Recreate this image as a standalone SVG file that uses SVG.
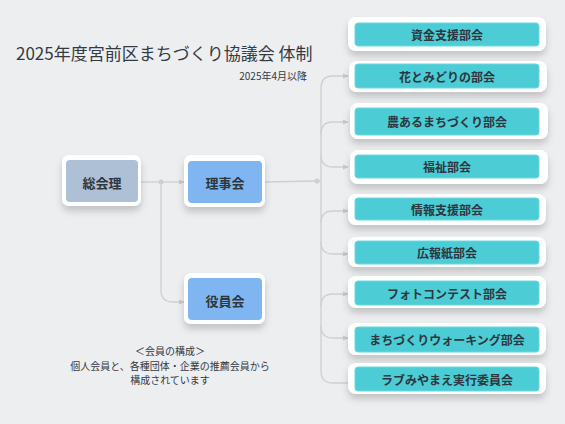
<svg xmlns="http://www.w3.org/2000/svg" width="565" height="424" viewBox="0 0 565 424">
<defs>
<filter id="sh" x="-20%" y="-30%" width="140%" height="180%">
<feDropShadow dx="0" dy="5" stdDeviation="3.5" flood-color="#000" flood-opacity="0.18"/>
</filter>
<marker id="ar" markerWidth="6" markerHeight="6" refX="5" refY="3" orient="auto" markerUnits="userSpaceOnUse">
<path d="M0,0.5 L5.5,3 L0,5.5 Z" fill="#c8c8cc"/>
</marker>
<style>
.outer{fill:#fff;filter:url(#sh)}
.teal{fill:#4ccdd5;stroke:#6ad8de;stroke-width:1}
.lbl{font-family:"Noto Sans CJK JP","Noto Sans",sans-serif;font-weight:700;fill:#2e3640;text-anchor:middle;dominant-baseline:central}
.sm{font-size:12px}
.big{font-size:13px}
.conn{fill:none;stroke:#cfcfd3;stroke-width:1.3}
.txt{font-family:"Noto Sans CJK JP","Noto Sans",sans-serif;fill:#333a44}
</style>
</defs>
<rect width="565" height="424" fill="#edeef0"/>
<text class="txt" x="16" y="60" font-size="17">2025年度宮前区まちづくり協議会 体制</text>
<text class="txt" x="307" y="80" font-size="10" text-anchor="end">2025年4月以降</text>
<g class="txt" font-size="10" text-anchor="middle">
<text x="170" y="355">＜会員の構成＞</text>
<text x="170" y="370">個人会員と、各種団体・企業の推薦会員から</text>
<text x="170" y="384">構成されています</text>
</g>
<g id="connectors">
<path class="conn" d="M141,182 H161" />
<path class="conn" d="M161,182 H184" marker-end="url(#ar)"/>
<path class="conn" d="M161,182 V290 Q161,302 173,302 H184" marker-end="url(#ar)"/>
<circle cx="161" cy="182" r="2.5" fill="#cfcfd3"/>
<path class="conn" d="M265,182 L317,181"/>
<circle cx="317" cy="181" r="2.5" fill="#cfcfd3"/>
<path class="conn" d="M317,181 H321"/>
<path class="conn" d="M321,371 V88 Q321,76 333,76 H348" marker-end="url(#ar)"/>
<path class="conn" d="M321,134 Q321,122 333,122 H348" marker-end="url(#ar)"/>
<path class="conn" d="M321,155 Q321,167 333,167 H348" marker-end="url(#ar)"/>
<path class="conn" d="M321,223 Q321,211 333,211 H348" marker-end="url(#ar)"/>
<path class="conn" d="M321,242 Q321,254 333,254 H348" marker-end="url(#ar)"/>
<path class="conn" d="M321,306 Q321,294 333,294 H348" marker-end="url(#ar)"/>
<path class="conn" d="M321,326 Q321,338 333,338 H348" marker-end="url(#ar)"/>
<path class="conn" d="M321,371 Q321,383 333,383 H350"/>
</g>
<g id="soukai">
<rect class="outer" x="62" y="155" width="79" height="51" rx="7"/>
<rect x="66" y="160" width="72" height="42" rx="4" fill="#aec0d6"/>
<text class="lbl big" x="102" y="182">総会理</text>
</g>
<g id="rijikai">
<rect class="outer" x="184" y="155" width="81" height="52" rx="7"/>
<rect x="188" y="161" width="74" height="42" rx="4" fill="#7fb6f1"/>
<text class="lbl big" x="225" y="182">理事会</text>
</g>
<g id="yakuinkai">
<rect class="outer" x="184" y="273" width="81" height="51" rx="7"/>
<rect x="188" y="278" width="74" height="42" rx="4" fill="#7fb6f1"/>
<text class="lbl big" x="225" y="300">役員会</text>
</g>
<g id="shikin">
<rect class="outer" x="348" y="17" width="198" height="34" rx="8"/>
<rect class="teal" x="355" y="23" width="184" height="23" rx="3"/>
<text class="lbl sm" x="447" y="34.5">資金支援部会</text>
</g>
<g id="hana">
<rect class="outer" x="349" y="61" width="198" height="31" rx="8"/>
<rect class="teal" x="355" y="64" width="184" height="24" rx="3"/>
<text class="lbl sm" x="447" y="76">花とみどりの部会</text>
</g>
<g id="nou">
<rect class="outer" x="350" y="103" width="198" height="36" rx="8"/>
<rect class="teal" x="355" y="108" width="184" height="27" rx="3"/>
<text class="lbl sm" x="447" y="121.5">農あるまちづくり部会</text>
</g>
<g id="fukushi">
<rect class="outer" x="350" y="150" width="198" height="34" rx="8"/>
<rect class="teal" x="355" y="155" width="184" height="23" rx="3"/>
<text class="lbl sm" x="447" y="166.5">福祉部会</text>
</g>
<g id="jouhou">
<rect class="outer" x="348" y="194" width="198" height="31" rx="8"/>
<rect class="teal" x="355" y="198" width="184" height="22" rx="3"/>
<text class="lbl sm" x="447" y="209">情報支援部会</text>
</g>
<g id="kouhou">
<rect class="outer" x="348" y="237" width="198" height="30" rx="8"/>
<rect class="teal" x="355" y="241" width="184" height="23" rx="3"/>
<text class="lbl sm" x="447" y="252.5">広報紙部会</text>
</g>
<g id="photo">
<rect class="outer" x="348" y="276" width="198" height="32" rx="8"/>
<rect class="teal" x="355" y="281" width="184" height="24" rx="3"/>
<text class="lbl sm" x="447" y="293">フォトコンテスト部会</text>
</g>
<g id="walking">
<rect class="outer" x="348" y="323" width="198" height="32" rx="8"/>
<rect class="teal" x="355" y="327" width="184" height="25" rx="3"/>
<text class="lbl sm" x="447" y="339.5">まちづくりウォーキング部会</text>
</g>
<g id="love">
<rect class="outer" x="348" y="363" width="198" height="31" rx="8"/>
<rect class="teal" x="355" y="367" width="184" height="24" rx="3"/>
<text class="lbl sm" x="447" y="379">ラブみやまえ実行委員会</text>
</g>
</svg>
